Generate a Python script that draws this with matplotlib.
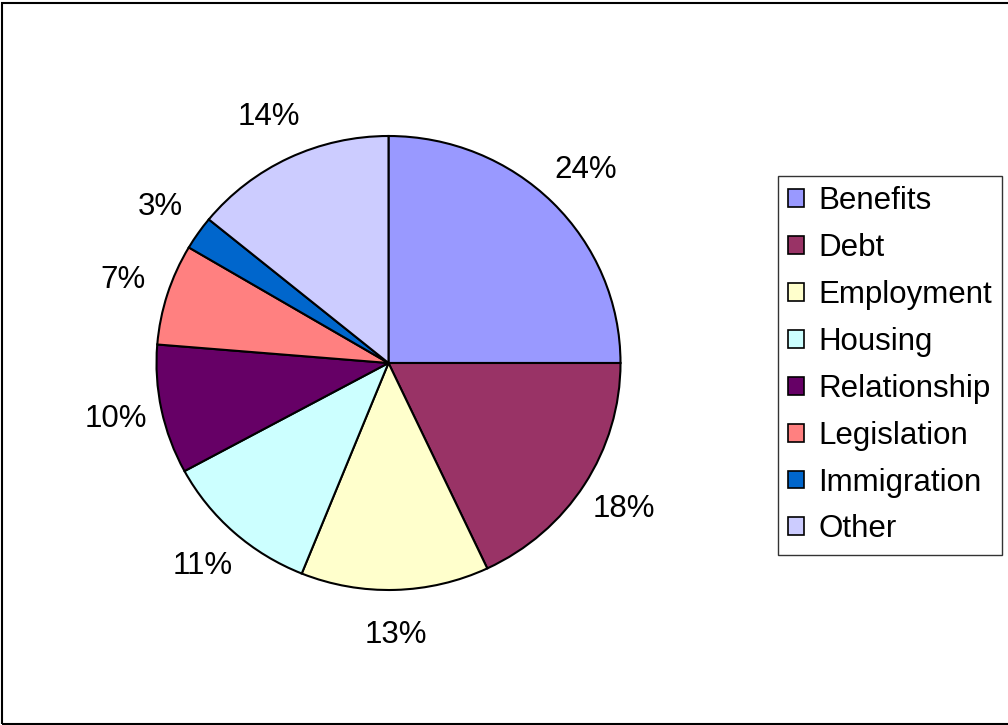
import matplotlib
matplotlib.use("Agg")
import matplotlib.pyplot as plt
from matplotlib.patches import Rectangle

plt.rcParams['font.family'] = ['Liberation Sans', 'DejaVu Sans']

# data
categories = ['Benefits', 'Debt', 'Employment', 'Housing',
              'Relationship', 'Legislation', 'Immigration', 'Other']
shares = [25.0, 18.0, 13.1, 11.0, 9.2, 7.2, 2.4, 14.1]
pct_labels = ['24%', '18%', '13%', '11%', '10%', '7%', '3%', '14%']
colors = ['#9999FF', '#993366', '#FFFFCC', '#CCFFFF',
          '#660066', '#FF8080', '#0066CC', '#CCCCFF']

W, H = 1008, 725
fig = plt.figure(figsize=(W / 100, H / 100), dpi=100)

# pie axes: centre (388, 363), radius ~232 x 227 px
cx, cy, rx, ry = 388.5, 363, 232, 227
ax = fig.add_axes([(cx - rx) / W, (H - cy - ry) / H, 2 * rx / W, 2 * ry / H])
wedges, texts = ax.pie(shares, labels=pct_labels, colors=colors, startangle=90,
                       counterclock=False, labeldistance=1.2,
                       wedgeprops=dict(edgecolor='black', linewidth=1.5),
                       textprops=dict(fontsize=22.5, color='black'))
for t in texts:
    t.set_ha('center')
    t.set_va('center')
    t.set_clip_on(False)
ax.set_aspect('auto')
ax.set_xlim(-1, 1)
ax.set_ylim(-1, 1)

# legend
leg = fig.legend(wedges, categories, loc='upper left',
                 bbox_to_anchor=(778 / W, 1 - 176 / H), borderaxespad=0,
                 fontsize=22.5, frameon=True, fancybox=False, shadow=False,
                 handlelength=0.5, handleheight=0.5, handletextpad=0.45,
                 labelspacing=0.54, borderpad=0.33)
leg.get_frame().set_edgecolor('black')
leg.get_frame().set_linewidth(1.0)
for h in leg.legend_handles:
    h.set_linewidth(1.2)

# outer chart border
fig.add_artist(Rectangle((2 / W, 1 / H), 1.05, (H - 4) / H, transform=fig.transFigure,
                         fill=False, edgecolor='black', linewidth=1.5))

fig.savefig('out.png', dpi=100)
